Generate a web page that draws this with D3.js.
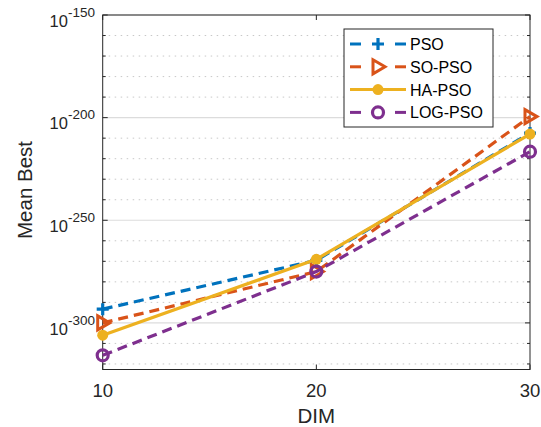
<!DOCTYPE html>
<html>
<head>
<meta charset="utf-8">
<script src="https://cdn.jsdelivr.net/npm/d3@7"></script>
<style>
  body { margin: 0; background: #fff; }
  svg { font-family: "Liberation Sans", Arial, sans-serif; }
</style>
</head>
<body>
<svg id="chart" width="541" height="427"></svg>
<script>
// data: values are exponents (Mean Best = 10^value)
var dims = [10, 20, 30];
var pso = [-293.3, -269.5, -207.5];
var soPso = [-300, -275, -199.5];
var haPso = [-306, -269, -208];
var logPso = [-315.8, -275, -216.6];
var yMajorTicks = [-300, -250, -200, -150];
var seriesNames = ["PSO", "SO-PSO", "HA-PSO", "LOG-PSO"];

var series = [
  {name: seriesNames[0], values: pso, color: "#0072BD", dash: "10,6", marker: "plus"},
  {name: seriesNames[1], values: soPso, color: "#D95319", dash: "10,6", marker: "tri"},
  {name: seriesNames[2], values: haPso, color: "#EDB120", dash: null, marker: "dot"},
  {name: seriesNames[3], values: logPso, color: "#7E2F8E", dash: "10,6", marker: "circ"}
];

var svg = d3.select("#chart");
var pLeft = 102.7, pRight = 530, pTop = 15, pBottom = 369.5;
var x = d3.scaleLinear().domain([10, 30]).range([pLeft, pRight]);
var y = d3.scaleLinear().domain([-322.7, -150]).range([pBottom, pTop]);

// minor dotted grid every 10 decades
var minor = d3.range(-320, -150, 10).filter(function (v) { return v % 50 != 0; });
svg.append("g").selectAll("line").data(minor).enter().append("line")
  .attr("x1", pLeft).attr("x2", pRight)
  .attr("y1", function (d) { return y(d); }).attr("y2", function (d) { return y(d); })
  .attr("stroke", "#c8c8c8").attr("stroke-width", 1).attr("stroke-dasharray", "1.5,4.5");
svg.append("g").selectAll("line").data(yMajorTicks).enter().append("line")
  .attr("x1", pLeft).attr("x2", pRight)
  .attr("y1", function (d) { return y(d); }).attr("y2", function (d) { return y(d); })
  .attr("stroke", "#dcdcdc").attr("stroke-width", 1.2);

// ticks (inward, mirrored)
var tickG = svg.append("g").attr("stroke", "#262626").attr("stroke-width", 1);
minor.concat(yMajorTicks).forEach(function (v) {
  var len = v % 50 == 0 ? 5 : 3;
  tickG.append("line").attr("x1", pLeft).attr("x2", pLeft + len).attr("y1", y(v)).attr("y2", y(v));
  tickG.append("line").attr("x1", pRight).attr("x2", pRight - len).attr("y1", y(v)).attr("y2", y(v));
});
dims.forEach(function (v) {
  tickG.append("line").attr("x1", x(v)).attr("x2", x(v)).attr("y1", pBottom).attr("y2", pBottom - 5);
  tickG.append("line").attr("x1", x(v)).attr("x2", x(v)).attr("y1", pTop).attr("y2", pTop + 5);
});
svg.append("rect").attr("x", pLeft).attr("y", pTop).attr("width", pRight - pLeft).attr("height", pBottom - pTop)
  .attr("fill", "none").attr("stroke", "#262626").attr("stroke-width", 1);

// tick labels
var yl = svg.append("g").selectAll("text").data(yMajorTicks).enter().append("text")
  .attr("x", 95).attr("y", function (d) { return y(d) + 11.7; })
  .attr("text-anchor", "end").attr("fill", "#262626").attr("font-size", 16.5);
yl.append("tspan").text("10");
yl.append("tspan").attr("dy", -10).attr("font-size", 13.5).text(function (d) { return String(d); });

svg.append("g").selectAll("text").data(dims).enter().append("text")
  .attr("x", function (d) { return x(d); }).attr("y", 397)
  .attr("text-anchor", "middle").attr("fill", "#262626").attr("font-size", 18.5)
  .text(function (d) { return d; });

svg.append("text").attr("x", x(20)).attr("y", 423).attr("text-anchor", "middle")
  .attr("fill", "#262626").attr("font-size", 20.5).text("DIM");
svg.append("text").attr("transform", "translate(31.5,190) rotate(-90)")
  .attr("text-anchor", "middle").attr("fill", "#262626").attr("font-size", 20.5).text("Mean Best");

// markers
function drawMarker(g, type, cx, cy, color) {
  if (type == "plus") {
    g.append("path").attr("d", "M" + (cx - 6) + "," + cy + "H" + (cx + 6) + "M" + cx + "," + (cy - 6) + "V" + (cy + 6))
      .attr("stroke", color).attr("stroke-width", 3.2).attr("fill", "none");
  } else if (type == "tri") {
    g.append("path").attr("d", "M" + (cx - 5) + "," + (cy - 7) + "L" + (cx + 7) + "," + cy + "L" + (cx - 5) + "," + (cy + 7) + "Z")
      .attr("stroke", color).attr("stroke-width", 3).attr("fill", "none");
  } else if (type == "dot") {
    g.append("circle").attr("cx", cx).attr("cy", cy).attr("r", 5.5).attr("fill", color);
  } else {
    g.append("circle").attr("cx", cx).attr("cy", cy).attr("r", 5.5)
      .attr("stroke", color).attr("stroke-width", 3.2).attr("fill", "none");
  }
}

var line = d3.line().x(function (d, i) { return x(dims[i]); }).y(function (d) { return y(d); });
series.forEach(function (s) {
  var g = svg.append("g");
  g.append("path").attr("d", line(s.values)).attr("fill", "none")
    .attr("stroke", s.color).attr("stroke-width", 3.2)
    .attr("stroke-dasharray", s.dash);
  s.values.forEach(function (v, i) { drawMarker(g, s.marker, x(dims[i]), y(v), s.color); });
});

// legend
var lg = svg.append("g");
lg.append("rect").attr("x", 344).attr("y", 29).attr("width", 149).attr("height", 98)
  .attr("fill", "#fff").attr("stroke", "#262626").attr("stroke-width", 1);
series.forEach(function (s, i) {
  var ly = 44 + i * 22.8;
  if (s.dash) {
    lg.append("line").attr("x1", 350).attr("x2", 361).attr("y1", ly).attr("y2", ly).attr("stroke", s.color).attr("stroke-width", 3);
    lg.append("line").attr("x1", 395).attr("x2", 406).attr("y1", ly).attr("y2", ly).attr("stroke", s.color).attr("stroke-width", 3);
  } else {
    lg.append("line").attr("x1", 350).attr("x2", 406).attr("y1", ly).attr("y2", ly).attr("stroke", s.color).attr("stroke-width", 3);
  }
  drawMarker(lg, s.marker, 378, ly, s.color);
  lg.append("text").attr("x", 410).attr("y", ly + 6).attr("fill", "#000").attr("font-size", 16).text(s.name);
});
</script>
</body>
</html>
